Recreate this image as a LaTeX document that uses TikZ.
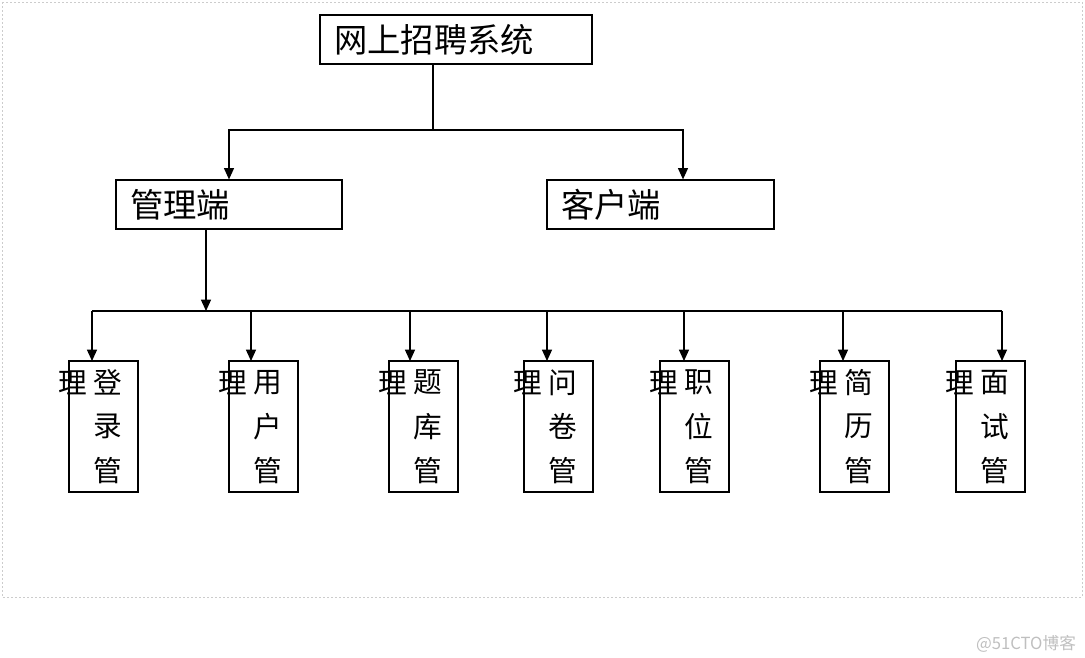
\documentclass[tikz,border=0pt]{standalone}
\usepackage{fontspec}
\setmainfont{Noto Sans CJK SC}
\usetikzlibrary{arrows.meta,calc}
\begin{document}
\begin{tikzpicture}[x=0.75pt,y=-0.75pt,
  line width=0.9pt,
  arr/.style={-{Triangle[length=8.5pt,width=7.5pt]}},
  topbox/.style={draw,minimum height=36.75pt,inner xsep=10.5pt,inner ysep=0pt,align=left,font=\fontsize{25}{28}\selectfont},
  leafbox/.style={draw,minimum width=51.75pt,minimum height=98.25pt,inner sep=0pt},
  ch/.style={font=\fontsize{21.5}{24}\selectfont,inner sep=0pt}]
\useasboundingbox (0,0) rectangle (1085,657);
\draw[gray!40,line width=0.75pt,dash pattern=on 1.5pt off 1.5pt] (2,2) rectangle (1082,597);

\node[topbox,text width=183pt] (sys) at (456,39.5) {网上招聘系统};
\node[topbox,text width=148.5pt] (adm) at (229,204.5) {管理端};
\node[topbox,text width=149.25pt] (cli) at (660.5,204.5) {客户端};

\coordinate (j1) at (433,130);
\draw (sys.south -| j1) -- (j1);
\draw[arr] (j1) -| (adm.north);
\draw[arr] (j1) -| ([xshift=16.875pt]cli.north);

\coordinate (j2) at (206,311);
\draw[arr] (adm.south -| j2) -- (j2);
\coordinate (busL) at (92,311);
\coordinate (busR) at (1002,311);
\draw (busL) -- (busR);

\foreach \i/\l/\ax/\a/\b/\c in {1/69/92/登/录/管, 2/229/251/用/户/管, 3/389/410/题/库/管, 4/524/547/问/卷/管, 5/660/684/职/位/管, 6/820/843/简/历/管, 7/956/1002/面/试/管}{
  \node[leafbox] (b\i) at ({\l+34.5},426.5) {};
  \coordinate (t\i) at (\ax,361);
  \draw[arr] (j2 -| t\i) -- (t\i);
  \node[ch] (l\i) at ([shift={(4,22)}]b\i.north west) {理};
  \node[ch] (a\i) at ([shift={(39.5,22)}]b\i.north west) {\a};
  \node[ch] (m\i) at ([shift={(39.5,66)}]b\i.north west) {\b};
  \node[ch] (n\i) at ([shift={(39.5,110)}]b\i.north west) {\c};
}

\node[font=\fontsize{12.5}{14}\selectfont,text=gray!50,inner sep=0pt] (wm) at (1026,644) {@51CTO博客};
\end{tikzpicture}
\end{document}
